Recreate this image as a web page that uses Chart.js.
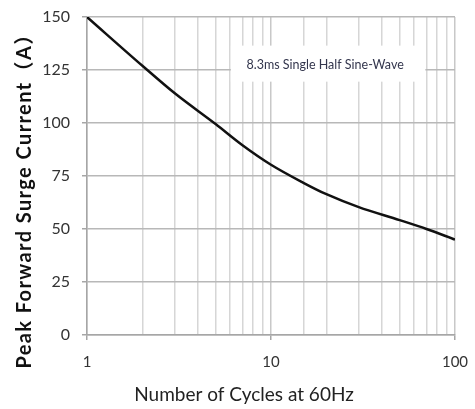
<!DOCTYPE html>
<html>
<head>
<meta charset="utf-8">
<script src="https://cdn.jsdelivr.net/npm/chart.js@4/dist/chart.umd.min.js"></script>
<style>
    html, body { margin: 0; padding: 0; background: #fff; }
    #wrap { width: 475px; height: 409px; }
</style>
</head>
<body>
<div id="wrap"><canvas id="surgeChart"></canvas></div>
<script>
// curve, x = number of cycles (log), y = amps
const cycles = [1, 2, 3, 5, 7, 10, 15, 20, 30, 50, 70, 100];
const surgeCurrent = [150, 127, 114, 99.5, 89.5, 80.3, 71.8, 66.4, 60.3, 54.2, 50, 45];
const xTickLabels = [1, 10, 100];
const yTickValues = [0, 25, 50, 75, 100, 125, 150];
const noteText = '8.3ms Single Half Sine-Wave';
const xTitle = 'Number of Cycles at 60Hz';
const yTitle = 'Peak Forward Surge Current（A）';

const fontFamily = 'Lato, "Noto Sans CJK SC", sans-serif';

const noteBox = {
    id: 'noteBox',
    beforeDatasetsDraw(chart) {
        const {ctx, scales: {x, y}} = chart;
        const left = x.getPixelForValue(6.05);
        const right = x.getPixelForValue(69);
        const top = y.getPixelForValue(136.5);
        const bottom = y.getPixelForValue(119.5);
        ctx.save();
        ctx.fillStyle = '#fff';
        ctx.fillRect(left, top, right - left, bottom - top);
        ctx.fillStyle = '#33364d';
        ctx.font = '12.5px ' + fontFamily;
        ctx.textAlign = 'center';
        ctx.textBaseline = 'middle';
        ctx.fillText(noteText, (left + right) / 2 - 3, (top + bottom) / 2 + 1);
        ctx.restore();
    }
};

// titles sit off-centre in the original, so they are drawn by hand
const axisTitles = {
    id: 'axisTitles',
    afterDraw(chart) {
        const ctx = chart.ctx;
        ctx.save();
        ctx.textAlign = 'center';
        ctx.textBaseline = 'middle';
        ctx.fillStyle = '#222';
        ctx.font = '19px ' + fontFamily;
        ctx.fillText(xTitle, 244, 395);

        ctx.translate(25, 196);
        ctx.rotate(-Math.PI / 2);
        ctx.fillStyle = '#111';
        ctx.font = 'bold 20px ' + fontFamily;
        ctx.letterSpacing = '1.4px';
        ctx.fillText(yTitle, 0, 0);
        ctx.restore();
    }
};

new Chart(document.getElementById('surgeChart'), {
    type: 'line',
    data: {
        datasets: [{
            data: cycles.map((c, i) => ({x: c, y: surgeCurrent[i]})),
            borderColor: '#111',
            borderWidth: 2.5,
            pointRadius: 0,
            fill: false,
            cubicInterpolationMode: 'monotone'
        }]
    },
    options: {
        responsive: true,
        maintainAspectRatio: false,
        animation: false,
        layout: { padding: { top: 17, right: 20, left: 0, bottom: 0 } },
        plugins: {
            legend: { display: false },
            tooltip: { enabled: false }
        },
        scales: {
            x: {
                type: 'logarithmic',
                min: 1,
                max: 100,
                afterFit: scale => {
                    scale.height = 74;
                    scale.paddingLeft = 0;
                    scale.paddingRight = 0;
                },
                border: { color: '#a6a6a6', width: 1.5 },
                grid: {
                    color: ctx => xTickLabels.includes(ctx.tick && ctx.tick.value) ? '#c8c8c8' : '#d6d6d6',
                    lineWidth: 1.5,
                    tickLength: 5,
                    tickColor: ctx => xTickLabels.includes(ctx.tick && ctx.tick.value) ? '#a6a6a6' : 'rgba(0,0,0,0)'
                },
                ticks: {
                    autoSkip: false,
                    maxRotation: 0,
                    padding: 13,
                    color: '#333',
                    font: { family: fontFamily, size: 15 },
                    callback: value => xTickLabels.includes(value) ? String(value) : ''
                },
                title: { display: false }
            },
            y: {
                min: 0,
                max: 150,
                afterFit: scale => {
                    scale.width = 87;
                    scale.paddingTop = 0;
                    scale.paddingBottom = 0;
                },
                afterBuildTicks: scale => {
                    scale.ticks = yTickValues.map(v => ({value: v}));
                },
                border: { color: '#a6a6a6', width: 1.5 },
                grid: {
                    color: '#b8b8b8',
                    lineWidth: 1.5,
                    tickLength: 5,
                    tickColor: '#a6a6a6'
                },
                ticks: {
                    padding: 12,
                    color: '#333',
                    font: { family: fontFamily, size: 16 }
                },
                title: { display: false }
            }
        }
    },
    plugins: [noteBox, axisTitles]
});
</script>
</body>
</html>
